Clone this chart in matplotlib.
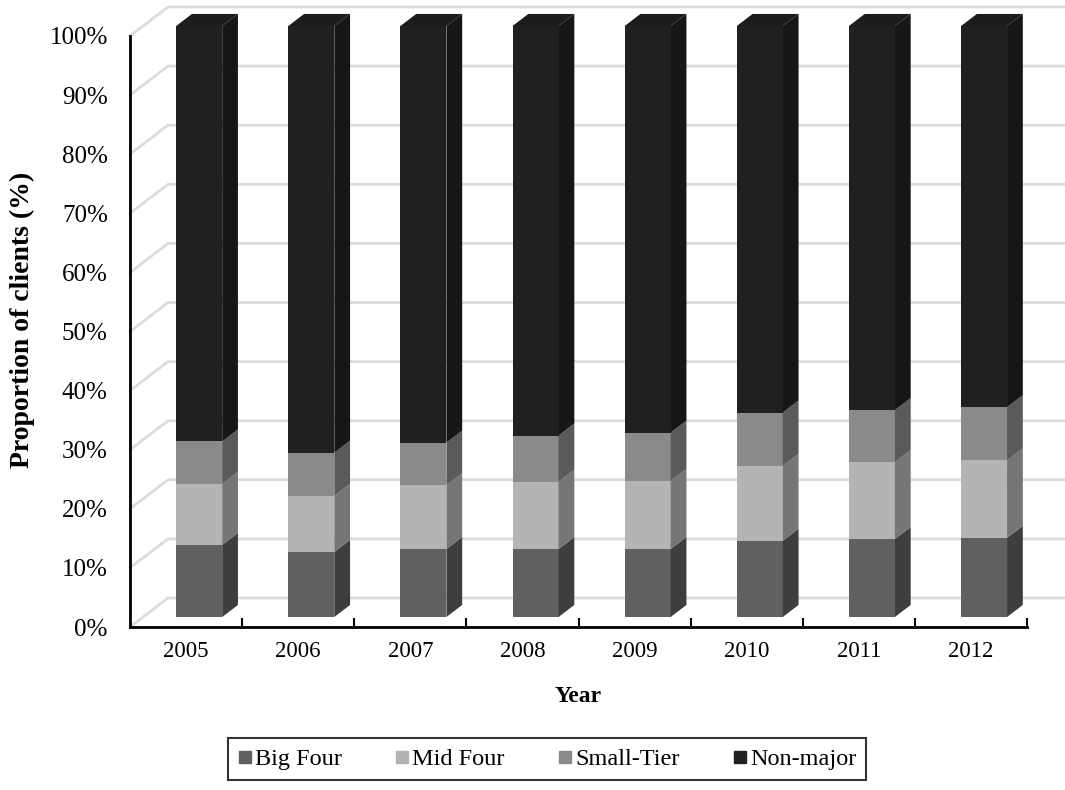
import numpy as np
import matplotlib
matplotlib.use('Agg')
import matplotlib.pyplot as plt
from matplotlib.patches import Polygon
from matplotlib.lines import Line2D

plt.rcParams['font.family'] = ['Liberation Serif', 'DejaVu Serif']

# share of clients per auditor group, in percent
years = ['2005', '2006', '2007', '2008', '2009', '2010', '2011', '2012']
big_four = [12.2, 11.0, 11.5, 11.5, 11.5, 12.9, 13.2, 13.4]
mid_four = [10.3, 9.5, 10.8, 11.4, 11.5, 12.7, 13.0, 13.1]
small_tier = [7.2, 7.3, 7.2, 7.8, 8.2, 9.0, 8.8, 9.0]
non_major = list(100 - np.array(big_four) - np.array(mid_four) - np.array(small_tier))

names = ['Big Four', 'Mid Four', 'Small-Tier', 'Non-major']
series = [big_four, mid_four, small_tier, non_major]
front_col = ['#606060', '#b4b4b4', '#8a8a8a', '#202020']
side_col = ['#3e3e3e', '#767676', '#5a5a5a', '#161616']
top_col = '#1c1c1c'
yticks = np.arange(0, 101, 10)

W, H = 1065, 790
fig = plt.figure(figsize=(W / 100, H / 100), dpi=100)
ax = fig.add_axes([130 / W, (H - 627) / H, 897 / W, (627 - 36) / H])
n = len(years)
ax.set_xlim(0, n)
ax.set_ylim(0, 100)

# oblique "3d" depth: back wall sits 38 px right and 29 px up
px_x = ax.bbox.width / n
px_y = ax.bbox.height / 100.0
DX, DY = 38 / px_x, 29 / px_y

def proj(x, y, d):
    return (x + d * DX, y + d * DY)

# back wall grid and side wall diagonals
for v in yticks:
    x0, y0 = proj(0, v, 0)
    x1, y1 = proj(0, v, 1)
    x2, y2 = proj(n, v, 1)
    ax.plot([x0, x1, x2], [y0, y1, y2], color='#dcdcdc', lw=2, zorder=0,
            clip_on=False, solid_joinstyle='miter')

d_front, d_back = 0.345, 0.76
bw = 46 / px_x
centers = np.arange(n) + 0.5
fx, fy = proj(0, 0, d_front)
bx, by = proj(0, 0, d_back)

base = np.zeros(n)
for k, vals in enumerate(series):
    vals = np.array(vals)
    ax.bar(centers + fx, vals, bw, bottom=base + fy, color=front_col[k],
           linewidth=0, zorder=2, clip_on=False)
    for i in range(n):
        xr = centers[i] + bw / 2
        xl = centers[i] - bw / 2
        y0, y1 = base[i], base[i] + vals[i]
        side = [(xr + fx, y0 + fy), (xr + fx, y1 + fy), (xr + bx, y1 + by), (xr + bx, y0 + by)]
        ax.add_patch(Polygon(side, closed=True, facecolor=side_col[k], lw=0,
                             zorder=2, clip_on=False))
        if k == len(series) - 1:
            top = [(xl + fx, y1 + fy), (xr + fx, y1 + fy), (xr + bx, y1 + by), (xl + bx, y1 + by)]
            ax.add_patch(Polygon(top, closed=True, facecolor=top_col, lw=0,
                                 zorder=2, clip_on=False))
    base = base + vals

for s in ['top', 'right']:
    ax.spines[s].set_visible(False)
for s in ['left', 'bottom']:
    ax.spines[s].set_linewidth(2)
    ax.spines[s].set_zorder(3)

ax.set_yticks(yticks)
ax.set_yticklabels(['%d%%' % v for v in yticks], fontsize=18)
ax.tick_params(axis='y', length=0, pad=16)

ax.set_xticks(np.arange(1, n + 1))
ax.set_xticklabels([])
ax.tick_params(axis='x', which='major', direction='in', length=6.5, width=1.5)
ax.set_xticks(centers, minor=True)
ax.set_xticklabels(years, minor=True, fontsize=16.5)
ax.tick_params(axis='x', which='minor', length=0, pad=10)

fig.text(22 / W, 1 - 320 / H, 'Proportion of clients (%)', rotation=90,
         ha='center', va='center', fontsize=20, fontweight='bold')
fig.text(578 / W, 1 - 697 / H, 'Year', ha='center', va='center',
         fontsize=17, fontweight='bold')

handles = [Line2D([], [], marker='s', linestyle='', color=c, markersize=8.5)
           for c in front_col]
leg = fig.legend(handles, names, ncol=4, loc='center',
                 bbox_to_anchor=(547 / W, 1 - 759 / H), fontsize=17.5,
                 frameon=True, fancybox=False, handlelength=0.55,
                 handletextpad=0.15, columnspacing=2.2, borderpad=0.42)
leg.get_frame().set_edgecolor('black')
leg.get_frame().set_linewidth(1.5)

fig.savefig('out.png', dpi=100)
